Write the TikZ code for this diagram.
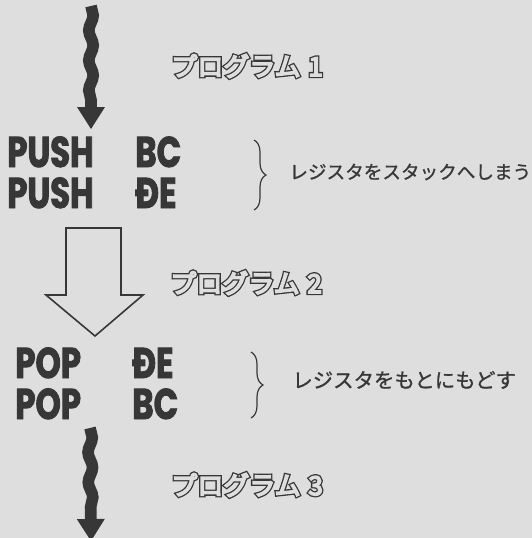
\documentclass[tikz,border=0pt]{standalone}
\usepackage{fontspec}
\newfontfamily\opfont[FakeStretch=0.75, FakeBold=2]{Poppins}
\newfontfamily\jpfont[FakeBold=1]{Noto Sans CJK JP}
\newfontfamily\proginkfont[FakeBold=16]{Noto Sans CJK JP}
\newfontfamily\progpaperfont[FakeBold=6]{Noto Sans CJK JP}
\usetikzlibrary{arrows.meta, decorations.pathmorphing, decorations.pathreplacing, positioning}

\definecolor{paper}{RGB}{222,222,222}
\definecolor{ink}{RGB}{55,55,55}

% hollow lettering for the program labels
\newcommand\hollowtext[1]{\rlap{\color{ink}\proginkfont #1}{\color{paper}\progpaperfont #1}}

\begin{document}
\begin{tikzpicture}[
    x=0.5pt, y=-0.5pt,
    op/.style={inner sep=0pt, anchor=base west, align=left, text=ink, font=\opfont\bfseries\fontsize{21.5}{20.5}\selectfont},
    note/.style={inner sep=0pt, anchor=west, text=ink, font=\jpfont\fontsize{10}{12}\selectfont},
    prog/.style={inner sep=0pt, anchor=west, font=\fontsize{13}{15}\selectfont},
    wavy/.style={draw=ink, line width=5.8pt, decorate, decoration={snake, segment length=15pt, amplitude=1.1pt, post length=12pt}, -{Triangle[width=14pt, length=11pt, line width=0pt]}},
    hollow/.style={draw=ink, line width=0.8pt, line join=miter},
    curly/.style={draw=ink, line width=0.6pt, decorate, decoration={brace, amplitude=6pt}}
]
    \useasboundingbox (0,0) rectangle (532,538);
    \fill[paper] (0,0) rectangle (532,538);

    % first block (base = last line)
    \coordinate (start1) at (91,6);
    \coordinate (end1) at (91,129);
    \node[op] (push) at (7,208) {PUSH\\PUSH};
    \node[op] (pushreg) at (135,208) {BC\\ĐE};
    \node[prog] (prog1) at (171,66) {\hollowtext{プログラム\hspace{0.3em}1}};
    \node[note] (note1) at (289,172) {\fontsize{9.3}{12}\selectfont レジスタをスタックへしまう};

    \draw[wavy] (start1) -- (end1);
    \draw[curly] (254,140) -- (254,210);

    % hollow arrow
    \draw[hollow] (66,228) -- (121,228) -- (121,295) -- (143,295) -- (95,336) -- (46,295) -- (66,295) -- cycle;
    \node[prog] (prog2) at (170,283) {\hollowtext{プログラム\hspace{0.3em}2}};

    % second block
    \node[op] (pop) at (15,419) {POP\\POP};
    \node[op] (popreg) at (132,419) {ĐE\\BC};
    \node[note] (note2) at (292,380) {\fontsize{10.2}{12}\selectfont レジスタをもとにもどす};
    \draw[curly] (251,352) -- (251,418);

    \coordinate (start2) at (90,428);
    \coordinate (end2) at (91,541);
    \draw[wavy] (start2) -- (end2);
    \node[prog] (prog3) at (171,485) {\hollowtext{プログラム\hspace{0.3em}3}};
\end{tikzpicture}
\end{document}
